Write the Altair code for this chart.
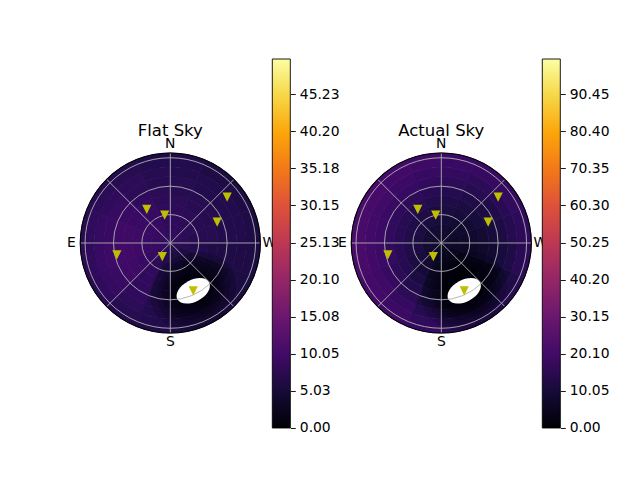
import math
import altair as alt
import pandas as pd

# ---------------- data ----------------
ZEN_EDGES = [0, 10, 20, 30, 40, 50, 60, 70, 80, 90, 95]   # zenith angle ring edges (deg)
AZ_STEP = 22.5                                               # azimuth sector width (deg), 16 sectors from N through E

# sky brightness, one row per zenith ring, one value per azimuth sector (N -> E -> S -> W)
FLAT_SKY = [
    [8, 8, 8, 8, 8, 8, 7.5, 7, 6.5, 6.5, 7, 7, 7.5, 7.5, 8, 8],
    [8, 8.5, 8.5, 8.5, 8.5, 8.5, 7.5, 6.5, 5.5, 5.5, 6, 7, 7.5, 7.5, 8, 8],
    [8, 8.5, 9, 9, 9, 8.5, 7.5, 6, 5, 4.5, 5.5, 6.5, 7, 7.5, 7.5, 8],
    [8, 8.5, 9, 9.5, 9.5, 9, 8, 6, 4.5, 4, 5, 6.5, 7, 7, 7.5, 7.5],
    [7.5, 8.5, 9, 9.5, 10, 9.5, 8, 6, 4, 3.5, 4.5, 6, 7, 7, 7, 7.5],
    [7.5, 8, 9, 9.5, 10, 9.5, 8, 6, 4, 3.5, 4.5, 6, 6.5, 7, 7, 7],
    [7, 7.5, 8.5, 9, 9.5, 9, 8, 6.5, 5, 4.5, 5, 6, 6.5, 6.5, 6.5, 7],
    [7, 7.5, 8, 8.5, 9, 8.5, 7.5, 6.5, 5.5, 5, 5.5, 6, 6.5, 6.5, 6.5, 6.5],
    [6.5, 7, 7.5, 8, 8, 8, 7, 6.5, 6, 5.5, 5.5, 6, 6, 6, 6, 6.5],
    [6, 6.5, 7, 7, 7.5, 7, 6.5, 6, 5.5, 5.5, 5.5, 5.5, 5.5, 5.5, 5.5, 6],
]
ACTUAL_SKY = [
    [8, 8, 8, 8, 8, 7.5, 7, 6.5, 6, 6, 6.5, 7, 7, 7.5, 8, 8],
    [9, 9, 9, 9, 9, 8.5, 7.5, 6, 5, 5, 5.5, 6.5, 7, 7.5, 8, 8.5],
    [10, 10.5, 11, 11, 11, 10, 8.5, 6.5, 4.5, 4, 5, 6.5, 7.5, 8, 9, 9.5],
    [11.5, 12, 12.5, 12.5, 12.5, 11.5, 9.5, 7, 4.5, 3.5, 5, 7, 8, 9, 10, 11],
    [13, 13.5, 14, 14.5, 14.5, 13.5, 11, 8, 4.5, 3, 5, 7.5, 9, 10, 11, 12],
    [14.5, 15.5, 16, 16.5, 16.5, 15.5, 13, 9, 5, 3.5, 5.5, 8.5, 10, 11, 12.5, 13.5],
    [16, 17, 18, 18.5, 18.5, 17.5, 15, 11, 7, 5.5, 7, 10, 11.5, 12.5, 14, 15],
    [17.5, 18.5, 19.5, 20, 20, 19, 17, 13.5, 10, 8.5, 9.5, 12, 13.5, 14.5, 15.5, 16.5],
    [19, 20, 21, 21.5, 21.5, 20.5, 18.5, 16, 13, 11.5, 12.5, 14.5, 15.5, 16.5, 17.5, 18],
    [19.5, 20.5, 21.5, 22, 22, 21, 19.5, 17, 14.5, 13, 14, 15.5, 16.5, 17.5, 18, 18.5],
]

STAR_AZ = [35.0, 11.3, 308.9, 294.1, 102.6, 149.7, 205.6]
STAR_ZEN = [43.3, 30.1, 77.1, 54.2, 57.8, 16.7, 56.0]
MOON_AZ = [205.6]
MOON_ZEN = [56.0]

GRID_RINGS = [30, 60, 90]
SPOKE_AZ = [0, 45, 90, 135, 180, 225, 270, 315]
COMPASS_LABELS = ["N", "E", "S", "W"]
COMPASS_AZ = [0, 90, 180, 270]

FLAT_MAX = 50.0
ACTUAL_MAX = 100.0
FLAT_TICKS = [0.00, 5.03, 10.05, 15.08, 20.10, 25.13, 30.15, 35.18, 40.20, 45.23]
ACTUAL_TICKS = [0.00, 10.05, 20.10, 30.15, 40.20, 50.25, 60.30, 70.35, 80.40, 90.45]

# ---------------- layout / style ----------------
R_MAX = 95.0          # outer radius in data units
R_PX = 90.0           # outer radius in pixels
K = R_PX / R_MAX
PLOT_H = 369
CY = 184              # polar centre row inside a panel (px)
CB_W = 18
FONT = "DejaVu Sans"
GRID_COLOR = "#b0b0b0"
STAR_COLOR = "#bfbf00"
HALO_HALF = [44, 38, 33, 29, 25, 22, 19]     # soft halo ellipse half-lengths (px)
HALO_ALPHA = 0.18

INFERNO = ["#000004", "#160b39", "#420a68", "#6a176e", "#932667", "#bc3754",
           "#dd513a", "#f37819", "#fca50a", "#f6d746", "#fcffa4"]

rscale = alt.Scale(type="linear", domain=[0, R_MAX], range=[0, R_PX], zero=True, nice=False)
tscale = alt.Scale(domain=[0, 360], range=[0, 2 * math.pi], zero=True, nice=False)

TRI_PATH = "M0,1L-1,-1L1,-1Z"


def ellipse_path(b, k=0.5523):
    return (f"M-1,0C-1,{-b*k:.4f},{-k},{-b},0,{-b}C{k},{-b},1,{-b*k:.4f},1,0"
            f"C1,{b*k:.4f},{k},{b},0,{b}C{-k},{b},-1,{b*k:.4f},-1,0Z")


MASK_PATH = ellipse_path(0.6)
HALO_PATH = ellipse_path(0.85)


def polar_xy(ch, r, xn="px", yn="py"):
    return ch.transform_calculate(
        **{xn: f"-{r} * sin(datum.az * PI / 180)",
           yn: f"{r} * cos(datum.az * PI / 180)"}
    )


def panel(values, vmax, title, width, cx):
    xscale = alt.Scale(domain=[-cx / K, (width - cx) / K], nice=False, zero=False)
    yscale = alt.Scale(domain=[-(PLOT_H - CY) / K, CY / K], nice=False, zero=False)

    def xy_enc(xf="px", yf="py"):
        return dict(x=alt.X(f"{xf}:Q", scale=xscale, axis=None),
                    y=alt.Y(f"{yf}:Q", scale=yscale, axis=None))

    def circle_arcs(radii, color, sw):
        df = pd.DataFrame({"th0": [0] * len(radii), "th1": [360] * len(radii),
                           "r0": [0] * len(radii), "r1": radii})
        return alt.Chart(df).mark_arc(
            x=cx, y=CY, fillOpacity=0, stroke=color, strokeWidth=sw
        ).encode(
            theta=alt.Theta("th0:Q", scale=tscale, stack=None), theta2="th1:Q",
            radius=alt.Radius("r1:Q", scale=rscale, stack=None), radius2="r0:Q",
        )

    rows = []
    for i, ring in enumerate(values):
        for j, v in enumerate(ring):
            a0, a1 = j * AZ_STEP, (j + 1) * AZ_STEP
            rows.append({"th0": 360 - a1, "th1": 360 - a0,
                         "r0": ZEN_EDGES[i], "r1": ZEN_EDGES[i + 1], "v": v})
    cells = pd.DataFrame(rows)
    cscale = alt.Scale(scheme="inferno", domain=[0, vmax], nice=False, zero=True)

    heat = alt.Chart(cells).mark_arc(x=cx, y=CY, strokeWidth=0.8).encode(
        theta=alt.Theta("th0:Q", scale=tscale, stack=None),
        theta2="th1:Q",
        radius=alt.Radius("r1:Q", scale=rscale, stack=None),
        radius2="r0:Q",
        color=alt.Color("v:Q", scale=cscale, legend=None),
        stroke=alt.Stroke("v:Q", scale=cscale, legend=None),
    )

    moon = pd.DataFrame({"az": MOON_AZ, "zen": MOON_ZEN})
    halos = [
        polar_xy(alt.Chart(moon), "datum.zen").mark_point(
            shape=HALO_PATH, filled=True, color="#000004", size=(2 * h) ** 2, angle=332,
            opacity=HALO_ALPHA, strokeOpacity=0
        ).encode(**xy_enc())
        for h in HALO_HALF
    ]
    mask = polar_xy(alt.Chart(moon), "datum.zen").mark_point(
        shape=MASK_PATH, filled=True, color="white", size=36 ** 2, angle=332, opacity=1
    ).encode(**xy_enc())

    rings = circle_arcs(GRID_RINGS, GRID_COLOR, 0.9)
    spine = circle_arcs([R_MAX], "black", 1.1)

    spokes = polar_xy(alt.Chart(pd.DataFrame({"az": SPOKE_AZ, "o": [0] * len(SPOKE_AZ)})), R_MAX, "ex", "ey"
                      ).mark_rule(color=GRID_COLOR, strokeWidth=0.9).encode(
        x=alt.X("o:Q", scale=xscale, axis=None), y=alt.Y("o:Q", scale=yscale, axis=None),
        x2="ex:Q", y2="ey:Q"
    )

    stars = polar_xy(alt.Chart(pd.DataFrame({"az": STAR_AZ, "zen": STAR_ZEN})), "datum.zen").mark_point(
        shape=TRI_PATH, filled=True, color=STAR_COLOR, size=85, opacity=1
    ).encode(**xy_enc())

    compass = polar_xy(alt.Chart(pd.DataFrame({"lab": COMPASS_LABELS, "az": COMPASS_AZ})), 99 / K
                       ).mark_text(font=FONT, fontSize=13.9, color="black", align="center",
                                   baseline="middle").encode(text="lab:N", **xy_enc())

    ttl = polar_xy(alt.Chart(pd.DataFrame({"t": [title], "az": [0]})), 107.5 / K
                   ).mark_text(font=FONT, fontSize=16.5, color="black", align="center",
                               baseline="alphabetic").encode(text="t:N", **xy_enc())

    return alt.layer(heat, *halos, mask, rings, spokes, spine, stars, compass, ttl).properties(
        width=width, height=PLOT_H
    )


def colorbar(vmax, ticks):
    grad = {
        "gradient": "linear", "x1": 0, "y1": 1, "x2": 0, "y2": 0,
        "stops": [{"offset": i / (len(INFERNO) - 1), "color": c} for i, c in enumerate(INFERNO)],
    }
    bx = alt.Scale(domain=[0, 1], nice=False, zero=False)
    return alt.Chart(pd.DataFrame({"x0": [0.0], "x1": [1.0], "lo": [0.0], "hi": [vmax]})).mark_rect(
        fill=grad, stroke="black", strokeWidth=0.9
    ).encode(
        x=alt.X("x0:Q", scale=bx, axis=None),
        x2="x1:Q",
        y=alt.Y("lo:Q", scale=alt.Scale(domain=[0, vmax], nice=False, zero=True),
                axis=alt.Axis(orient="right", values=ticks, format=".2f", title=None,
                              tickSize=5, tickWidth=0.9, tickColor="black", labelPadding=4,
                              domain=False, grid=False, labelFont=FONT, labelFontSize=13.9,
                              labelColor="black", labelOverlap=False, labelFlush=False)),
        y2="hi:Q",
    ).properties(width=CB_W, height=PLOT_H)


RES = dict(x="independent", y="independent", color="independent", stroke="independent")

chart = alt.hconcat(
    panel(FLAT_SKY, FLAT_MAX, "Flat Sky", 212, 110),
    colorbar(FLAT_MAX, FLAT_TICKS),
    panel(ACTUAL_SKY, ACTUAL_MAX, "Actual Sky", 252, 151),
    colorbar(ACTUAL_MAX, ACTUAL_TICKS),
    spacing=0, bounds="flush",
).resolve_scale(**RES).properties(
    padding={"left": 52.3, "top": 50, "right": 5, "bottom": 5}
).configure(font=FONT).configure_view(strokeWidth=0, stroke="transparent")

chart.save("out.html", embed_options={"renderer": "svg", "actions": False})
